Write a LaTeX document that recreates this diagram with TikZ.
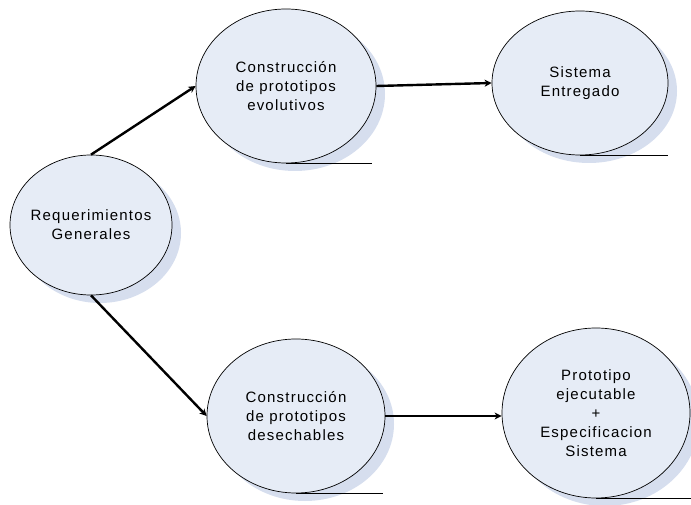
\documentclass[tikz,border=0pt]{standalone}
\usepackage{fontspec}
\setmainfont[LetterSpace=8]{Liberation Sans}
\usetikzlibrary{shapes.geometric,arrows.meta,shadows}
\definecolor{bubble}{RGB}{230,236,246}
\definecolor{bubbleshade}{RGB}{214,222,238}
\begin{document}
\begin{tikzpicture}[x=1bp,y=-1bp,
  bubble/.style={ellipse, draw=black, line width=0.7bp, fill=bubble,
    inner xsep=-10bp, inner ysep=0pt, align=center,
    font=\fontsize{15bp}{19bp}\selectfont,
    drop shadow={shadow xshift=9bp, shadow yshift=-8bp, fill=bubbleshade, opacity=1}},
  flow/.style={line width=2.4bp, -{Stealth[length=7bp,width=7bp,inset=2bp]}},
  baseline rule/.style={line width=0.6bp}]
  \useasboundingbox (0,0) rectangle (691,505);

  \node[bubble, minimum width=162bp, minimum height=140bp] (req) at (91,225)
    {Requerimientos\\Generales};
  \node[bubble, minimum width=180bp, minimum height=154bp] (evo) at (286,86)
    {Construcción\\de prototipos\\evolutivos};
  \node[bubble, minimum width=176bp, minimum height=144bp] (sis) at (580,83)
    {Sistema\\Entregado};
  \node[bubble, minimum width=178bp, minimum height=154bp] (des) at (296,416)
    {Construcción\\de prototipos\\desechables};
  \node[bubble, minimum width=188bp, minimum height=170bp] (pro) at (596,413)
    {Prototipo\\ejecutable\\+\\Especificacion\\Sistema};

  % rules under the bubbles
  \draw[baseline rule] (evo.south) -- ++(86,0);
  \draw[baseline rule] (sis.south) -- ++(88,0);
  \draw[baseline rule] (des.south) -- ++(87,0);
  \draw[baseline rule] (pro.south) -- ++(95,0);

  % flow arrows
  \draw[flow] (req.north) -- (evo.west);
  \draw[flow] (req.south) -- (des.west);
  \draw[flow] (evo.east) -- (sis.west);
  \draw[flow] (des.east) -- (des.east -| pro.west);
\end{tikzpicture}
\end{document}
